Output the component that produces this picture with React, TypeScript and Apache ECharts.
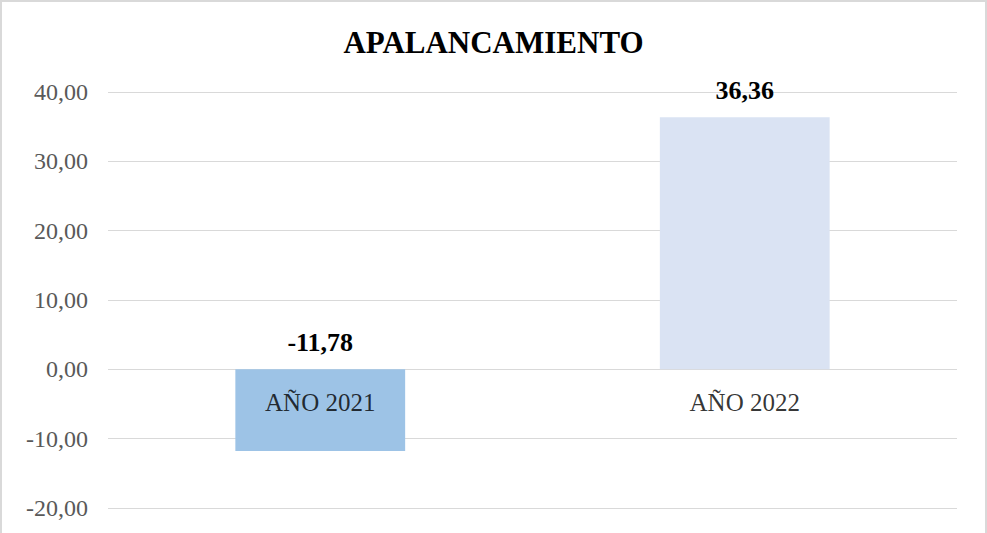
import React, { useEffect, useRef } from "react";
import * as echarts from "echarts";

const categories = ["AÑO 2021", "AÑO 2022"];
const values = [-11.78, 36.36];
const barColors = ["#9DC3E6", "#DAE3F3"];
const title = "APALANCAMIENTO";

const FONT = '"Liberation Serif", "Times New Roman", serif';
const fmt = (v: number) => v.toFixed(2).replace(".", ",");

export default function App() {
  const ref = useRef<HTMLDivElement>(null);
  useEffect(() => {
    if (!ref.current) return;
    const chart = echarts.init(ref.current, undefined, { renderer: "svg" });
    chart.setOption({
      animation: false,
      backgroundColor: "#ffffff",
      title: {
        text: title,
        left: "center",
        top: 22,
        textStyle: { fontFamily: FONT, fontSize: 31, fontWeight: "bold", color: "#000000" },
      },
      graphic: [
        {
          type: "rect",
          shape: { x: 1, y: 1, width: 985, height: 560 },
          style: { fill: "none", stroke: "#d9d9d9", lineWidth: 2 },
          silent: true,
        },
      ],
      grid: { left: 108, right: 30, top: 92, bottom: 25, containLabel: false, outerBoundsMode: "none" },
      xAxis: {
        type: "category",
        data: categories,
        axisLine: { show: false },
        axisTick: { show: false },
        axisLabel: { show: false },
        splitLine: { show: false },
      },
      yAxis: {
        type: "value",
        min: -20,
        max: 40,
        interval: 10,
        axisLine: { show: false },
        axisTick: { show: false },
        axisLabel: {
          fontFamily: FONT,
          fontSize: 24,
          color: "#595959",
          margin: 20,
          formatter: (v: number) => fmt(v),
        },
        splitLine: { show: true, lineStyle: { color: "#d9d9d9", width: 1 } },
      },
      series: [
        {
          type: "bar",
          barWidth: "40%",
          data: values.map((v, i) => ({ value: v, itemStyle: { color: barColors[i] } })),
          label: {
            show: true,
            position: "top",
            distance: 14,
            fontFamily: FONT,
            fontSize: 26,
            fontWeight: "bold",
            color: "#000000",
            formatter: (p: any) => fmt(p.value),
          },
          z: 1,
        },
        {
          type: "scatter",
          symbolSize: 1,
          itemStyle: { color: "rgba(0,0,0,0)" },
          data: categories.map((c) => [c, 0]),
          label: {
            show: true,
            position: "bottom",
            distance: 20,
            fontFamily: FONT,
            fontSize: 25,
            color: "#000000",
            formatter: (p: any) => p.name || categories[p.dataIndex],
          },
          silent: true,
          z: 3,
        },
      ],
    });
    return () => chart.dispose();
  }, []);
  return (
    <div
      ref={ref}
      style={{ position: "absolute", left: 0, top: 0, width: 987, height: 533 }}
    />
  );
}
